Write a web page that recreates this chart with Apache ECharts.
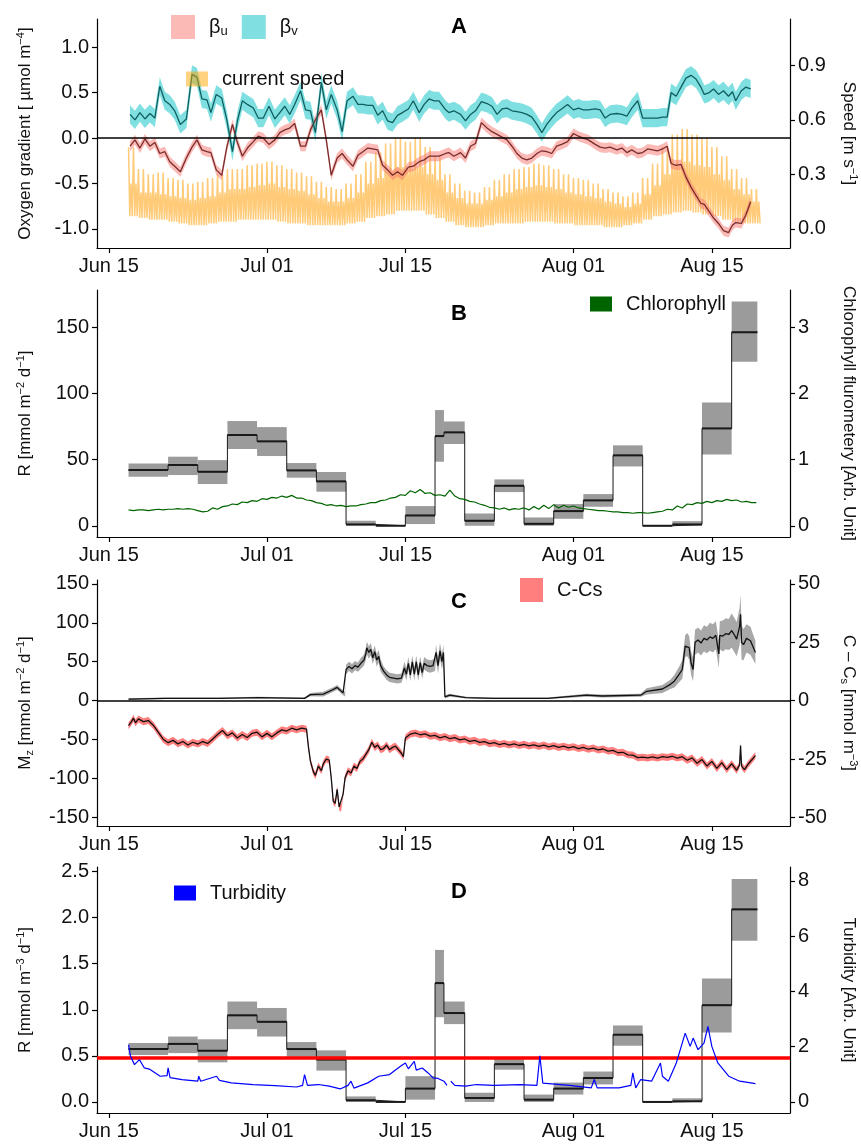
<!DOCTYPE html>
<html><head><meta charset="utf-8">
<script src="https://cdn.jsdelivr.net/npm/echarts@6/dist/echarts.min.js"></script>
<style>html,body{margin:0;padding:0;background:#fff}#c{width:861px;height:1146px}</style>
</head><body><div id="c"></div>
<script>
// ---------- x axis (days since Jun 15) ----------
const xTickDays = [0, 16, 30, 47, 61];
const xTickLabels = ['Jun 15', 'Jul 01', 'Jul 15', 'Aug 01', 'Aug 15'];

// ---------- Panel A ----------
const betaDays = [2.15,2.65,3.15,3.66,4.16,4.66,5.16,5.67,6.17,6.67,7.24,7.85,8.42,8.92,9.42,9.93,10.33,10.87,11.43,11.94,12.51,13.01,13.51,14.02,14.62,15.12,15.63,16.2,16.8,17.3,17.8,18.3,18.8,19.4,19.9,20.4,20.9,21.5,22.0,22.5,23.1,23.6,24.1,24.7,25.2,25.7,26.2,26.7,27.2,27.7,28.2,28.7,29.2,29.7,30.3,30.8,31.4,31.9,32.4,32.9,
  33.4,34.07,34.4,34.9,35.58,36.08,36.59,37.09,37.69,38.26,38.76,39.27,39.77,40.27,40.78,41.28,41.79,42.29,42.79,43.3,43.8,44.3,44.8,45.3,45.8,46.4,47.0,47.5,48.0,48.5,49.2,49.7,50.2,50.7,51.4,51.9,52.4,52.9,53.5,54.0,54.5,55.0,55.5,56.0,56.47,56.88,57.38,57.88,58.38,58.89,59.39,59.89,60.23,60.73,61.17,61.67,62.17,62.68,63.08,63.41,63.98,64.42,64.92];
const betaV = [0.26,0.20,0.28,0.21,0.27,0.22,0.57,0.41,0.37,0.30,0.15,0.21,0.70,0.67,0.43,0.42,0.28,0.48,0.44,0.20,-0.15,0.19,0.41,0.37,0.33,0.22,0.22,0.35,0.21,0.28,0.35,0.26,0.37,0.52,0.31,0.30,0.06,0.61,0.31,0.48,0.31,0.07,0.41,0.46,0.37,0.37,0.36,0.36,0.25,0.30,0.19,0.17,0.25,0.28,0.32,0.41,0.28,0.37,0.43,0.41,
  0.41,0.31,0.28,0.30,0.26,0.19,0.26,0.30,0.40,0.38,0.35,0.26,0.32,0.33,0.30,0.29,0.28,0.26,0.23,0.15,0.06,0.15,0.22,0.28,0.32,0.37,0.31,0.33,0.31,0.31,0.32,0.31,0.22,0.26,0.27,0.26,0.24,0.33,0.41,0.22,0.22,0.22,0.22,0.23,0.23,0.50,0.46,0.56,0.66,0.69,0.65,0.56,0.48,0.50,0.54,0.48,0.52,0.46,0.51,0.41,0.52,0.56,0.54];
const betaU = [-0.09,-0.02,-0.11,-0.01,-0.09,-0.05,-0.17,-0.15,-0.26,-0.31,-0.37,-0.22,-0.10,-0.02,-0.13,-0.15,-0.16,-0.35,-0.41,-0.10,0.15,-0.05,-0.20,-0.11,-0.04,0.02,0.00,-0.07,-0.02,0.06,0.09,0.11,0.16,-0.09,-0.09,0.09,0.20,0.31,-0.02,-0.41,-0.22,-0.17,-0.24,-0.31,-0.19,-0.15,-0.11,-0.12,-0.13,-0.30,-0.35,-0.41,-0.37,-0.41,-0.32,-0.31,-0.26,-0.24,-0.20,-0.20,
  -0.20,-0.17,-0.16,-0.20,-0.16,-0.22,-0.09,-0.06,0.17,0.11,0.07,0.04,0.01,-0.02,-0.09,-0.17,-0.22,-0.24,-0.22,-0.17,-0.14,-0.15,-0.17,-0.09,-0.07,-0.04,0.05,0.02,0.00,-0.02,-0.07,-0.10,-0.11,-0.10,-0.13,-0.11,-0.16,-0.13,-0.17,-0.16,-0.12,-0.13,-0.14,-0.12,-0.09,-0.28,-0.30,-0.29,-0.43,-0.54,-0.63,-0.72,-0.73,-0.81,-0.88,-0.94,-1.02,-1.04,-0.96,-0.93,-0.94,-0.85,-0.70];
const betaUErr = 0.055;
const betaVErr = 0.1;

// current speed: per day (day 2..65) flood-peak, ebb-peak and slack-water envelopes
const speedDays = [2,3,4,5,6,7,8,9,10,11,12,13,14,15,16,17,18,19,20,21,22,23,24,25,26,27,28,29,30,31,32,33,34,35,36,37,38,39,40,41,42,43,44,45,46,47,48,49,50,51,52,53,54,55,56,57,58,59,60,61,62,63,64,65];
const speedMajor = [0.45,0.33,0.30,0.31,0.28,0.27,0.25,0.26,0.28,0.30,0.33,0.33,0.35,0.36,0.37,0.35,0.33,0.31,0.29,0.26,0.23,0.22,0.25,0.30,0.37,0.42,0.47,0.50,0.48,0.50,0.45,0.40,0.30,0.25,0.21,0.20,0.23,0.27,0.30,0.33,0.34,0.36,0.35,0.33,0.30,0.28,0.27,0.25,0.22,0.20,0.18,0.20,0.28,0.36,0.45,0.52,0.55,0.52,0.50,0.45,0.40,0.33,0.28,0.22];
const speedMinor = [0.25,0.20,0.20,0.19,0.18,0.17,0.16,0.17,0.18,0.20,0.22,0.22,0.23,0.24,0.25,0.23,0.22,0.21,0.19,0.17,0.15,0.15,0.17,0.20,0.25,0.28,0.32,0.34,0.33,0.34,0.30,0.27,0.20,0.17,0.14,0.14,0.16,0.18,0.20,0.22,0.23,0.24,0.23,0.22,0.20,0.19,0.18,0.17,0.15,0.14,0.12,0.14,0.19,0.24,0.30,0.35,0.37,0.35,0.34,0.30,0.27,0.22,0.19,0.15];
const speedLow = [0.07,0.06,0.05,0.05,0.04,0.03,0.02,0.02,0.03,0.04,0.04,0.05,0.05,0.05,0.05,0.04,0.03,0.03,0.02,0.02,0.02,0.02,0.03,0.04,0.06,0.07,0.08,0.10,0.10,0.10,0.08,0.06,0.04,0.02,0.01,0.01,0.02,0.03,0.03,0.03,0.04,0.04,0.04,0.03,0.03,0.02,0.02,0.02,0.01,0.01,0.02,0.03,0.05,0.07,0.08,0.09,0.10,0.09,0.08,0.07,0.05,0.04,0.03,0.03];

// ---------- Panel B & D windows ----------
const winStart = [2,6,9,12,15,18,21,24,27,30,33,33.9,36,39,42,45,48,51,54,57,60,63];
const winEnd   = [6,9,12,15,18,21,24,27,30,33,33.9,36,39,42,45,48,51,54,57,60,63,65.6];
const rArea    = [42.2,46,40.9,68.7,63.9,41.9,33.6,1.0,0,7.8,67.9,70.7,3.8,30.3,1.5,11.1,19.2,53.3,0,1.0,73.7,146.5];
const rAreaLo  = [37.1,38.4,31.6,58.1,52.8,36.4,25.8,0,0,1.3,48.5,61.9,0,25.5,0,5.3,14.4,44.9,0,0,54,124.2];
const rAreaHi  = [47.2,52.3,49.7,79.3,74.7,47.5,40.7,3.8,0,14.9,87.6,79,9.3,35.1,6.3,16.4,24,60.9,0,3.5,93.4,169.7];
const chlDays = [2.0,2.5,3.0,3.5,4.0,4.5,5.0,5.5,6.0,6.5,7.0,7.5,8.0,8.5,9.0,9.5,10.0,10.5,11.0,11.5,12.0,12.5,13.0,13.5,14.0,14.5,15.0,15.5,16.0,16.5,17.0,17.5,18.0,18.5,19.0,19.5,20.0,20.5,21.0,21.5,22.0,22.5,23.0,23.5,24.0,24.5,25.0,25.5,26.0,26.5,27.0,27.5,28.0,28.5,29.0,29.5,30.0,30.5,31.0,31.5,32.0,32.5,33.0,33.5,34.0,34.5,35.0,35.5,36.0,36.5,37.0,37.5,38.0,38.5,39.0,39.5,40.0,40.5,41.0,41.5,42.0,42.5,43.0,43.5,44.0,44.5,45.0,45.5,46.0,46.5,47.0,47.5,48.0,48.5,49.0,49.5,50.0,50.5,51.0,51.5,52.0,52.5,53.0,53.5,54.0,54.5,55.0,55.5,56.0,56.5,57.0,57.5,58.0,58.5,59.0,59.5,60.0,60.5,61.0,61.5,62.0,62.5,63.0,63.5,64.0,64.5,65.0,65.5];
const chlVals = [0.24,0.23,0.24,0.24,0.23,0.24,0.25,0.24,0.25,0.25,0.26,0.25,0.26,0.25,0.23,0.21,0.22,0.27,0.25,0.29,0.30,0.33,0.32,0.36,0.35,0.38,0.37,0.41,0.40,0.43,0.42,0.45,0.43,0.46,0.42,0.42,0.39,0.38,0.35,0.34,0.31,0.32,0.30,0.31,0.29,0.30,0.30,0.32,0.33,0.35,0.35,0.38,0.39,0.42,0.43,0.47,0.46,0.53,0.50,0.55,0.49,0.50,0.46,0.47,0.45,0.54,0.45,0.41,0.40,0.37,0.36,0.33,0.31,0.28,0.27,0.25,0.27,0.24,0.26,0.25,0.27,0.24,0.29,0.25,0.31,0.26,0.32,0.27,0.31,0.28,0.30,0.27,0.26,0.25,0.24,0.23,0.23,0.22,0.21,0.21,0.20,0.20,0.19,0.20,0.20,0.19,0.20,0.21,0.22,0.25,0.24,0.30,0.27,0.33,0.32,0.35,0.34,0.37,0.35,0.38,0.37,0.40,0.38,0.39,0.36,0.37,0.35,0.35];

// ---------- Panel C ----------
const mzDays = [2.0,5.7,11.2,15.1,19.8,20.4,21.7,22.6,23.1,23.7,23.9,24.0,24.3,24.6,24.9,25.2,25.5,25.8,26.0,26.1,26.3,26.5,26.7,26.9,27.1,27.3,27.5,27.8,28.1,28.4,28.8,29.2,29.6,29.9,30.1,30.3,30.5,30.7,30.9,31.1,31.3,31.5,31.7,31.9,32.2,32.5,32.8,33.0,33.1,33.3,33.5,33.7,33.85,34.0,34.5,36.1,38.9,44.4,48.3,49.9,53.8,54.4,56.0,56.8,57.2,57.7,58.0,58.3,58.5,58.7,58.9,59.1,59.3,59.6,59.9,60.2,60.5,60.8,61.1,61.4,61.7,61.8,62.1,62.4,62.7,63.0,63.3,63.5,63.8,63.9,64.0,64.2,64.5,64.9,65.2,65.4];
const mzVals = [2,3,3,4,3,7.7,8.5,13.7,17,10,8.5,40,44,41,45,43,48,52,60,68,62,66,55,63,52,57,45,38,33,30,29,28,29,42,34,48,33,50,34,50,33,49,36,48,45,44,45,46,62,45,64,50,62,5,7,4,3,3,7,6,7,12,15,21,25,34,40,70,72,68,48,40,75,78,74,80,78,82,80,84,60,84,83,86,85,90,84,79,95,111,75,72,80,77,68,62];
const mzErr  = [1,1,1,1,1,2,3,3,3,3,3,6,6,6,6,6,7,7,8,8,8,8,8,8,8,8,8,6,6,6,6,6,6,8,8,8,8,8,8,8,8,8,8,8,8,8,8,8,10,10,10,10,10,2,2,1,1,1,2,2,2,4,5,6,8,10,12,14,15,15,15,15,16,16,16,17,17,18,18,18,18,18,20,20,20,22,22,22,24,25,22,20,18,18,16,15];
const ccsDays = [2.0,2.3,2.5,2.7,3.0,3.5,4.0,4.5,5.0,5.5,6.0,6.5,7.0,7.5,8.0,8.5,9.0,9.5,10.0,10.5,11.0,11.5,12.0,12.5,13.0,13.5,14.0,14.5,15.0,15.5,16.0,16.5,17.0,17.5,18.0,18.5,19.0,19.5,20.0,20.2,20.4,20.7,20.9,21.2,21.5,21.7,22.0,22.3,22.5,22.7,22.9,23.1,23.3,23.5,23.7,23.9,24.2,24.5,24.8,25.1,25.4,25.7,26.0,26.3,26.6,26.9,27.2,27.5,27.8,28.1,28.4,28.7,29.0,29.3,29.6,29.8,30.0,30.5,31.0,31.5,32.0,32.5,33.0,33.5,34.0,34.5,35.0,35.5,36.0,36.5,37.0,37.5,38.0,38.5,39.0,39.5,40.0,40.5,41.0,41.5,42.0,42.5,43.0,43.5,44.0,44.5,45.0,45.5,46.0,46.5,47.0,47.5,48.0,48.5,49.0,49.5,50.0,50.5,51.0,51.5,52.0,52.5,53.0,53.5,54.0,54.5,55.0,55.5,56.0,56.5,57.0,57.5,58.0,58.5,59.0,59.5,60.0,60.5,61.0,61.5,62.0,62.5,63.0,63.5,63.8,63.9,64.0,64.3,64.7,65.0,65.4];
const ccsVals = [-10.7,-9.0,-7.5,-9.5,-7.8,-9.0,-8.5,-10.5,-13.5,-16.5,-18.0,-17.0,-18.5,-17.5,-19.0,-17.8,-18.6,-17.5,-18.3,-16.5,-14.5,-12.8,-15.0,-13.8,-16.0,-14.5,-15.8,-14.0,-13.5,-15.5,-14.0,-15.5,-13.8,-12.5,-13.0,-11.8,-12.5,-11.8,-12.2,-20,-26,-30.5,-32,-28,-30,-27,-25,-25.5,-33,-43,-44,-38,-45.5,-46,-40,-33,-30,-31,-28,-29,-26,-25,-23,-21,-17.8,-20,-19,-21,-20.5,-19,-21,-20,-19.5,-21,-22.5,-24,-16,-14.3,-13.8,-14.6,-14.2,-15.2,-14.9,-15.9,-15.3,-16.3,-15.8,-16.8,-16.4,-17.4,-17.0,-17.9,-17.5,-18.4,-18.0,-18.8,-18.3,-19.0,-18.5,-19.2,-18.7,-19.4,-18.9,-19.6,-19.0,-19.8,-19.3,-20.0,-19.5,-20.2,-19.7,-20.5,-20.0,-20.8,-20.3,-21.1,-20.7,-21.6,-21.3,-22.3,-22.1,-23.2,-23.3,-24.4,-24.2,-24.5,-24.1,-24.6,-24.0,-24.3,-23.8,-24.6,-24.0,-25.5,-24.5,-26.8,-25.2,-28.0,-26.0,-29.0,-26.5,-29.5,-27.0,-29.8,-27.5,-19.2,-28.0,-29.5,-27.0,-25.5,-23.5];
const ccsErr = 1.5;

// ---------- Panel D ----------
const rVol   = [0.574,0.63,0.556,0.94,0.87,0.574,0.46,0.018,0,0.145,1.29,0.965,0.043,0.41,0.025,0.145,0.26,0.73,0,0.007,1.05,2.09];
const rVolLo = [0.51,0.53,0.43,0.79,0.71,0.49,0.34,0,0,0.025,0.92,0.845,0,0.35,0,0.08,0.19,0.61,0,0,0.755,1.75];
const rVolHi = [0.64,0.71,0.68,1.09,1.02,0.65,0.56,0.06,0,0.28,1.65,1.09,0.1,0.48,0.08,0.21,0.33,0.83,0,0.04,1.34,2.42];
const rThreshold = 0.48;
const turbDays = [2.0,2.2,2.6,3.1,3.6,4.1,5.2,5.9,6.0,6.2,7.4,9.0,9.1,9.3,10.9,11.2,12.4,14.6,16.8,19.0,19.6,19.8,20.1,21.2,22.3,23.4,24.2,24.5,24.8,26.2,27.3,28.4,29.5,30.0,30.3,30.9,31.1,31.7,32.3,32.8,33.3,33.9,34.2,34.4,34.6,35.0,36.1,37.2,38.9,41.6,43.3,43.6,43.9,46.6,48.8,49.1,49.4,51.6,52.8,53.0,53.3,53.8,54.9,55.8,56.0,56.6,57.4,58.0,58.3,58.8,59.1,59.6,60.2,60.6,61.0,61.6,62.7,63.8,65.4];
const turbVals = [2.07,1.65,1.35,1.53,1.23,1.19,0.93,0.95,1.23,0.88,0.81,0.75,0.93,0.75,0.93,0.78,0.69,0.63,0.59,0.54,0.60,0.99,0.60,0.63,0.57,0.47,0.60,0.75,0.50,0.69,0.93,0.99,1.29,1.41,1.20,1.47,1.15,1.23,1.05,0.87,0.85,0.75,0.60,null,0.75,0.60,0.57,0.63,0.60,0.63,0.60,1.67,0.68,0.60,0.51,0.81,0.51,0.51,0.60,1.05,0.51,0.81,0.75,1.41,0.93,0.75,1.41,2.13,2.49,2.01,2.31,1.89,2.13,2.73,2.00,1.41,0.93,0.75,0.66];

// ================= rendering =================
const FONT = '"Liberation Sans", Arial, sans-serif';
const X_MIN = -1.19, X_MAX = 68.9;
const TXT = '#111';
const ORANGE = '#FFCB78';
const richStyles = {
  sup: {fontSize: 11, verticalAlign: 'top', lineHeight: 20, fontFamily: FONT, color: TXT},
  sub: {fontSize: 11, verticalAlign: 'bottom', lineHeight: 20, fontFamily: FONT, color: TXT}
};

function pairs(xs, ys) { return xs.map((x, i) => [x, ys[i]]); }

function xAxisCfg(gi) {
  return {
    type: 'value', gridIndex: gi, min: X_MIN, max: X_MAX,
    axisLine: {show: true, onZero: false, lineStyle: {color: '#000', width: 1.2}},
    axisTick: {show: true, customValues: xTickDays, length: 5, lineStyle: {color: '#000', width: 1.2}},
    axisLabel: {customValues: xTickDays, fontSize: 20, color: TXT, fontFamily: FONT, margin: 8,
      formatter: v => { const i = xTickDays.findIndex(d => Math.abs(d - v) < 1e-6); return i >= 0 ? xTickLabels[i] : ''; }},
    splitLine: {show: false}
  };
}
function yAxisCfg(gi, pos, min, max, ticks, dec, name, gap) {
  return {
    type: 'value', gridIndex: gi, position: pos, min, max,
    axisLine: {show: true, onZero: false, lineStyle: {color: '#000', width: 1.2}},
    axisTick: {show: true, customValues: ticks, length: 5, lineStyle: {color: '#000', width: 1.2}},
    axisLabel: {customValues: ticks, fontSize: 20, color: TXT, fontFamily: FONT, margin: 8,
      formatter: v => Number(v).toFixed(dec)},
    splitLine: {show: false},
    name, nameLocation: 'middle', nameGap: gap, nameRotate: pos === 'left' ? 90 : -90,
    nameTextStyle: {fontSize: 17, color: TXT, fontFamily: FONT, lineHeight: 20, rich: richStyles}
  };
}

function band(name, xi, yi, xs, lo, hi, color, z) {
  return {
    type: 'custom', name, xAxisIndex: xi, yAxisIndex: yi, data: [[xs[0], lo[0]]], clip: true, silent: true, z,
    renderItem: (params, api) => {
      const pts = [];
      for (let i = 0; i < xs.length; i++) pts.push(api.coord([xs[i], hi[i]]));
      for (let i = xs.length - 1; i >= 0; i--) pts.push(api.coord([xs[i], lo[i]]));
      return {type: 'polygon', shape: {points: pts}, style: {fill: color}};
    }
  };
}
function line(name, xi, yi, data, color, width, z, extra) {
  return Object.assign({
    type: 'line', name, xAxisIndex: xi, yAxisIndex: yi, data, showSymbol: false, symbol: 'none',
    lineStyle: {color, width}, itemStyle: {color}, silent: true, z, connectNulls: false
  }, extra || {});
}
function stepBoxes(name, xi, yi, lv, lo, hi) {
  const data = winStart.map((s, i) => [s, winEnd[i], lo[i], hi[i], lv[i]]);
  return {
    type: 'custom', name, xAxisIndex: xi, yAxisIndex: yi, data, clip: true, silent: true, z: 2,
    encode: {x: [0, 1], y: [2, 3]},
    renderItem: (params, api) => {
      const x0 = api.value(0), x1 = api.value(1), l = api.value(2), h = api.value(3), v = api.value(4);
      const a = api.coord([x0, h]), b = api.coord([x1, l]);
      const c = api.coord([x0, v]), d = api.coord([x1, v]);
      const ch = [];
      if (h > l) ch.push({type: 'rect', shape: {x: a[0], y: a[1], width: b[0] - a[0], height: b[1] - a[1]}, style: {fill: '#9b9b9b'}});
      ch.push({type: 'line', shape: {x1: c[0], y1: c[1], x2: d[0], y2: d[1]}, style: {stroke: '#1a1a1a', lineWidth: 2}, z2: 5});
      return {type: 'group', children: ch};
    }
  };
}
function stepLine(xi, yi, lv) {
  const d = winStart.map((s, i) => [s, lv[i]]);
  d.push([winEnd[winEnd.length - 1], lv[lv.length - 1]]);
  return line('step', xi, yi, d, '#1a1a1a', 1, 3, {step: 'end'});
}

// speed magnitude: flood and ebb peaks of each semi-diurnal cycle, slack water between
const speedData = [];
speedDays.forEach((d, i) => {
  speedData.push(
    [d, speedMajor[i]], [d + 0.125, speedLow[i]],
    [d + 0.25, speedMinor[i]], [d + 0.375, speedLow[i]],
    [d + 0.5, speedMajor[i]], [d + 0.625, speedLow[i]],
    [d + 0.75, speedMinor[i]], [d + 0.875, speedLow[i]]);
});

const series = [
  line('current speed', 0, 1, speedData, ORANGE, 1.5, 1),
  band('βu', 0, 0, betaDays, betaU.map(v => v - betaUErr), betaU.map(v => v + betaUErr), 'rgba(248,118,109,0.5)', 2),
  band('βv', 0, 0, betaDays, betaV.map(v => v - betaVErr), betaV.map(v => v + betaVErr), 'rgba(0,191,196,0.5)', 2),
  line('βu line', 0, 0, pairs(betaDays, betaU), '#7a2c2c', 1.3, 3),
  line('βv line', 0, 0, pairs(betaDays, betaV), '#105e5e', 1.3, 3, {
    markLine: {silent: true, symbol: 'none', label: {show: false}, lineStyle: {color: '#000', width: 1.5, type: 'solid'}, data: [{yAxis: 0}]}
  }),
  stepBoxes('R area', 1, 2, rArea, rAreaLo, rAreaHi),
  stepLine(1, 2, rArea),
  line('Chlorophyll', 1, 3, pairs(chlDays, chlVals), '#006400', 1.2, 4),
  band('Mz band', 2, 4, mzDays, mzVals.map((v, i) => v - mzErr[i]), mzVals.map((v, i) => v + mzErr[i]), 'rgba(110,110,110,0.6)', 2),
  line('Mz', 2, 4, pairs(mzDays, mzVals), '#111', 1.3, 3, {
    markLine: {silent: true, symbol: 'none', label: {show: false}, lineStyle: {color: '#000', width: 1.5, type: 'solid'}, data: [{yAxis: 0}]}
  }),
  band('C-Cs', 2, 5, ccsDays, ccsVals.map(v => v - ccsErr), ccsVals.map(v => v + ccsErr), 'rgba(255,0,0,0.5)', 2),
  line('C-Cs line', 2, 5, pairs(ccsDays, ccsVals), '#111', 1.3, 3),
  stepBoxes('R vol', 3, 6, rVol, rVolLo, rVolHi),
  stepLine(3, 6, rVol),
  line('Turbidity', 3, 7, pairs(turbDays, turbVals), '#0000ff', 1.2, 5, {
    markLine: {silent: true, symbol: 'none', label: {show: false}, lineStyle: {color: '#ff0000', width: 3.5, type: 'solid'}, data: [{yAxis: rThreshold * 10 / 3}]}
  })
];

const legendText = {fontSize: 20, color: TXT, fontFamily: FONT, padding: [0, 0, 0, 9],
  rich: {sub: {fontSize: 13, verticalAlign: 'bottom', lineHeight: 22, fontFamily: FONT, color: TXT}}};
function leg(items, left, top, w, h, extra) {
  return Object.assign({data: items, left, top, icon: 'rect', itemWidth: w, itemHeight: h, itemGap: 14,
    selectedMode: false, textStyle: legendText, orient: 'horizontal'}, extra || {});
}

const gridBase = {left: 97, right: 71, containLabel: false, outerBoundsMode: 'none'};
const option = {
  animation: false,
  backgroundColor: '#fff',
  title: [
    {text: 'A', left: 446, top: 11},
    {text: 'B', left: 446, top: 298},
    {text: 'C', left: 446, top: 586},
    {text: 'D', left: 446, top: 876}
  ].map(t => Object.assign(t, {textStyle: {fontSize: 22, fontWeight: 'bold', color: '#000', fontFamily: FONT}})),
  grid: [
    Object.assign({top: 19, height: 229}, gridBase),
    Object.assign({top: 290, height: 247}, gridBase),
    Object.assign({top: 580, height: 246}, gridBase),
    Object.assign({top: 867, height: 246}, gridBase)
  ],
  xAxis: [0, 1, 2, 3].map(xAxisCfg),
  yAxis: [
    yAxisCfg(0, 'left', -1.21, 1.31, [-1, -0.5, 0, 0.5, 1], 1, 'Oxygen gradient [ µmol m{sup|−4}]', 62),
    yAxisCfg(0, 'right', -0.105, 1.155, [0, 0.3, 0.6, 0.9], 1, 'Speed [m s{sup|−1}]', 49),
    yAxisCfg(1, 'left', -8.5, 178.5, [0, 50, 100, 150], 0, 'R [mmol m{sup|−2} d{sup|−1}]', 62),
    yAxisCfg(1, 'right', -0.17, 3.57, [0, 1, 2, 3], 0, 'Chlorophyll flurometery [Arb. Unit]', 49),
    yAxisCfg(2, 'left', -161, 155, [-150, -100, -50, 0, 50, 100, 150], 0, 'M{sub|z} [mmol m{sup|−2} d{sup|−1}]', 62),
    yAxisCfg(2, 'right', -161 / 3, 155 / 3, [-50, -25, 0, 25, 50], 0, 'C – C{sub|s} [mmol m{sup|−3}]', 49),
    yAxisCfg(3, 'left', -0.12, 2.55, [0, 0.5, 1, 1.5, 2, 2.5], 1, 'R [mmol m{sup|−3} d{sup|−1}]', 62),
    yAxisCfg(3, 'right', -0.4, 8.5, [0, 2, 4, 6, 8], 0, 'Turbidity [Arb. Unit]', 49)
  ],
  legend: [
    leg([{name: 'βu', itemStyle: {color: 'rgba(248,118,109,0.5)'}}, {name: 'βv', itemStyle: {color: 'rgba(0,191,196,0.5)'}}], 166, 10, 24, 24,
      {formatter: n => n === 'βu' ? 'β{sub|u}' : 'β{sub|v}'}),
    leg([{name: 'current speed', itemStyle: {color: 'rgba(255,165,0,0.5)'}}], 181, 64, 22, 15),
    leg([{name: 'Chlorophyll', itemStyle: {color: '#006400'}}], 585, 289, 22, 15),
    leg([{name: 'C-Cs', itemStyle: {color: 'rgba(255,0,0,0.5)'}}], 515, 573, 23, 24),
    leg([{name: 'Turbidity', itemStyle: {color: '#0000ff'}}], 169, 878, 22, 15)
  ],
  series
};

const chart = echarts.init(document.getElementById('c'), null, {renderer: 'canvas'});
chart.setOption(option);
</script></body></html>
